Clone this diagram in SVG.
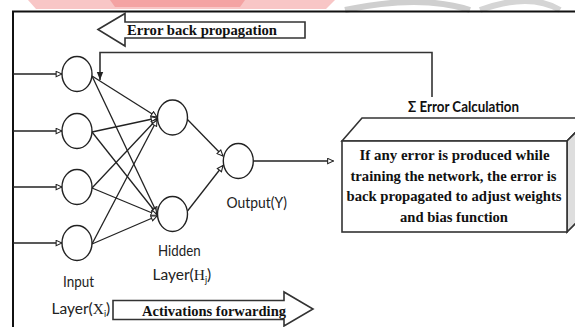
<svg xmlns="http://www.w3.org/2000/svg" width="575" height="327" viewBox="0 0 575 327">
<defs>
<style>
.frame{fill:none;stroke:#111;stroke-width:2}
.neuron{fill:#fff;stroke:#222;stroke-width:1.4}
.conn{fill:none;stroke:#222;stroke-width:1.3}
.fb{fill:none;stroke:#333;stroke-width:1.6}
.bigarrow{fill:#fff;stroke:#333;stroke-width:1.6;stroke-linejoin:miter}
.cube{stroke:#333;stroke-width:1.6;stroke-linejoin:miter}
.serifb{font-family:"Liberation Serif","Times New Roman",serif;font-weight:bold;font-size:15.5px;fill:#111}
.sans{font-family:Lato,"Open Sans","Liberation Sans",sans-serif;font-size:15.5px;fill:#222}
.sansb{font-family:Lato,"Open Sans","Liberation Sans",sans-serif;font-weight:bold;font-size:15px;fill:#111}
.serif{font-family:"Liberation Serif","Times New Roman",serif}
</style>
<marker id="open" viewBox="0 0 8 8" refX="7.5" refY="4" markerWidth="7" markerHeight="7" markerUnits="userSpaceOnUse" orient="auto">
<path d="M0.8,1 L7.5,4 L0.8,7 Z" fill="#fff" stroke="#222" stroke-width="1.2"/>
</marker>
<marker id="solid" viewBox="0 0 8 8" refX="8" refY="4" markerWidth="8" markerHeight="8" markerUnits="userSpaceOnUse" orient="auto">
<path d="M0,0.8 L8,4 L0,7.2 Z" fill="#222"/>
</marker>
</defs>
<rect width="575" height="327" fill="#fff"/>
<!-- background watermark traces -->
<path d="M28,0 L335,0 L326,9 L36,9 Z" fill="#f6b3b3" opacity="0.75"/>
<path d="M110,0 L245,0 L240,7 L115,7 Z" fill="#ef8080" opacity="0.5"/>
<path d="M345,10 Q420,-6 470,10" fill="none" stroke="#cfcfcf" stroke-width="6"/>
<path d="M480,10 Q530,-8 560,10" fill="none" stroke="#d5d5d5" stroke-width="6"/>
<!-- frame -->
<path class="frame" d="M13,327 L13,11.5 L575,11.5"/>
<!-- big arrows -->
<g id="error-back-propagation">
<path class="bigarrow" d="M98,29.5 L125,13.5 L125,22 L305,22 L305,38 L125,38 L125,46 Z"/>
<text class="serifb" x="127" y="34.5" textLength="150" lengthAdjust="spacingAndGlyphs">Error back propagation</text>
</g>
<g id="activations-forwarding">
<path class="bigarrow" d="M113,300.5 L284,300.5 L284,292 L313,309 L284,326 L284,319.5 L113,319.5 Z"/>
<text class="serifb" x="142" y="315.5" textLength="144" lengthAdjust="spacingAndGlyphs">Activations forwarding</text>
</g>
<!-- connectors -->
<g id="connectors">
<line class="conn" x1="13" y1="74" x2="62" y2="74" marker-end="url(#open)"/>
<line class="conn" x1="13" y1="131" x2="62" y2="131" marker-end="url(#open)"/>
<line class="conn" x1="13" y1="187" x2="62" y2="187" marker-end="url(#open)"/>
<line class="conn" x1="13" y1="243" x2="62" y2="243" marker-end="url(#open)"/>
<line class="conn" x1="92" y1="76" x2="157" y2="117" marker-end="url(#open)"/>
<line class="conn" x1="92" y1="76" x2="157" y2="213" marker-end="url(#open)"/>
<line class="conn" x1="92" y1="132" x2="157" y2="118" marker-end="url(#open)"/>
<line class="conn" x1="92" y1="132" x2="157" y2="214" marker-end="url(#open)"/>
<line class="conn" x1="92" y1="188" x2="157" y2="119" marker-end="url(#open)"/>
<line class="conn" x1="92" y1="188" x2="157" y2="215" marker-end="url(#open)"/>
<line class="conn" x1="92" y1="244" x2="157" y2="120" marker-end="url(#open)"/>
<line class="conn" x1="92" y1="244" x2="157" y2="216" marker-end="url(#open)"/>
<line class="conn" x1="187" y1="119" x2="223" y2="156" marker-end="url(#open)"/>
<line class="conn" x1="187.5" y1="211" x2="223" y2="165.5" marker-end="url(#open)"/>
<line class="conn" x1="253.5" y1="161" x2="333.5" y2="161" marker-end="url(#open)"/>
<path class="fb" d="M432,97 L432,52.5 L100,52.5 L100,80" marker-end="url(#solid)"/>
</g>
<!-- input layer -->
<g id="input-1"><ellipse class="neuron" cx="77" cy="74" rx="15" ry="17.5"/></g>
<g id="input-2"><ellipse class="neuron" cx="77" cy="131" rx="15" ry="17.5"/></g>
<g id="input-3"><ellipse class="neuron" cx="77" cy="187" rx="15" ry="17.5"/></g>
<g id="input-4"><ellipse class="neuron" cx="77" cy="243" rx="15" ry="17.5"/></g>
<!-- hidden layer -->
<g id="hidden-1"><ellipse class="neuron" cx="172.5" cy="117.5" rx="15" ry="17.5"/></g>
<g id="hidden-2"><ellipse class="neuron" cx="172.5" cy="214" rx="15" ry="17.5"/></g>
<!-- output -->
<g id="output"><ellipse class="neuron" cx="238.3" cy="161" rx="15" ry="17.5"/>
<text class="sans" x="226.5" y="208" textLength="60.5" lengthAdjust="spacingAndGlyphs">Output(Y)</text>
</g>
<g id="labels">
<text class="sans" x="179.3" y="256" text-anchor="middle" textLength="42.5" lengthAdjust="spacingAndGlyphs">Hidden</text>
<text class="sans" x="152.5" y="279.5" font-size="14.5">Layer(<tspan class="serif" font-size="15.5">H</tspan><tspan font-size="9" dy="3">j</tspan><tspan dy="-3">)</tspan></text>
<text class="sans" x="78.5" y="287" text-anchor="middle" textLength="31" lengthAdjust="spacingAndGlyphs">Input</text>
<text class="sans" x="51.5" y="314" font-size="14.5">Layer(<tspan class="serif" font-size="15.5">X</tspan><tspan font-size="9" dy="3">i</tspan><tspan dy="-3">)</tspan></text>
</g>
<!-- error calculation cube -->
<g id="error-calculation">
<text class="sansb" x="408" y="112" textLength="111" lengthAdjust="spacingAndGlyphs">Σ Error Calculation</text>
<path class="cube" fill="#fff" d="M342,141 L362,118 L590,118 L567,141 Z"/>
<path class="cube" fill="#dedede" d="M567,141 L590,118 L590,209 L567,232 Z"/>
<rect class="cube" fill="#fff" x="342" y="141" width="225" height="91"/>
<text class="serifb" x="454.5" y="160" text-anchor="middle" textLength="190" lengthAdjust="spacingAndGlyphs">If any error is produced while</text>
<text class="serifb" x="453.5" y="180.5" text-anchor="middle" textLength="206" lengthAdjust="spacingAndGlyphs">training the network, the error is</text>
<text class="serifb" x="454" y="201" text-anchor="middle" textLength="215" lengthAdjust="spacingAndGlyphs">back propagated to adjust weights</text>
<text class="serifb" x="454" y="221.5" text-anchor="middle" textLength="108" lengthAdjust="spacingAndGlyphs">and bias function</text>
</g>
</svg>
